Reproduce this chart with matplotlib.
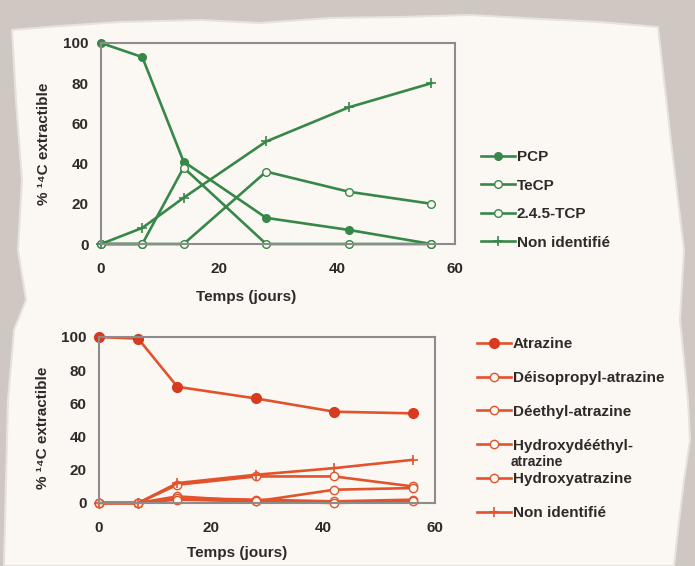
import matplotlib
matplotlib.use('Agg')
import matplotlib.pyplot as plt
from matplotlib.patches import Polygon

# données (temps en jours, % 14C extractible)
days = [0, 7, 14, 28, 42, 56]

pcp = [100, 93, 41, 13, 7, 0]
tecp = [0, 0, 38, 0, 0, 0]
tcp = [0, 0, 0, 36, 26, 20]
non_id_pcp = [0, 8, 23, 51, 68, 80]

atrazine = [100, 99, 70, 63, 55, 54]
deisopropyl = [0, 0, 11, 16, 16, 10]
deethyl = [0, 0, 4, 1, 8, 9]
hydroxydeethyl = [0, 0, 3, 2, 1, 2]
hydroxyatrazine = [0, 0, 2, 1, 0, 1]
non_id_atr = [0, 0, 12, 17, 21, 26]

labels_pcp = ['PCP', 'TeCP', '2.4.5-TCP', 'Non identifié']
labels_atr = ['Atrazine', 'Déisopropyl-atrazine', 'Déethyl-atrazine',
              'Hydroxydééthyl-', 'Hydroxyatrazine', 'Non identifié']

plt.rcParams['font.family'] = ['Liberation Sans', 'DejaVu Sans']
plt.rcParams['font.weight'] = 'bold'
plt.rcParams['axes.labelweight'] = 'bold'

W, H = 695, 566
green = '#378749'
red = '#e2532d'
txt = '#2e2a28'
paper = '#fbf8f3'
fs = 11

fig = plt.figure(figsize=(W / 100, H / 100), dpi=100)
fig.patch.set_facecolor('#cfc8c2')

# feuille déchirée (décor)
edge = [(12, 30), (60, 26), (120, 22), (200, 20), (260, 23), (330, 18), (400, 17),
        (470, 15), (540, 19), (600, 22), (658, 27), (664, 80), (672, 150),
        (684, 250), (680, 320), (688, 400), (690, 440), (684, 480), (678, 530),
        (674, 566), (4, 566), (6, 480), (8, 400), (14, 330), (26, 300),
        (18, 250), (22, 180), (16, 100), (12, 30)]
fig.add_artist(Polygon([(x / W, 1 - y / H) for x, y in edge], closed=True,
                       transform=fig.transFigure, facecolor=paper,
                       edgecolor='#e8e2dc', lw=1.5, zorder=0))


def style(ax, lab_xy, ylab_xy):
    ax.set_facecolor(paper)
    ax.set_xlim(0, 60)
    ax.set_ylim(0, 100)
    ax.set_xticks([0, 20, 40, 60])
    ax.set_yticks([0, 20, 40, 60, 80, 100])
    for s in ax.spines.values():
        s.set_color('#8c8c8c')
        s.set_linewidth(1.5)
    ax.tick_params(length=0, labelsize=fs, colors=txt)
    ax.tick_params(axis='x', pad=13)
    ax.tick_params(axis='y', pad=9)
    ax.set_xlabel('Temps (jours)', fontsize=fs, color=txt)
    ax.set_ylabel('% ¹⁴C extractible', fontsize=fs, color=txt)
    ax.xaxis.set_label_coords(*lab_xy)
    ax.yaxis.set_label_coords(*ylab_xy)


# graphique PCP
ax1 = fig.add_axes([101 / W, 1 - 244 / H, 354 / W, 201 / H])
style(ax1, (0.41, -0.23), (-0.14, 0.5))
ax1.plot(days, pcp, '-o', color=green, lw=1.9, ms=5.5, mfc=green, mec=green, label=labels_pcp[0], clip_on=False)
ax1.plot(days, tecp, '-o', color=green, lw=1.9, ms=5.5, mfc=paper, mec=green, label=labels_pcp[1], clip_on=False)
ax1.plot(days, tcp, '-o', color=green, lw=1.9, ms=5.5, mfc=paper, mec=green, label=labels_pcp[2], clip_on=False)
ax1.plot(days, non_id_pcp, '-+', color=green, lw=1.9, ms=7, mew=1.2, label=labels_pcp[3], clip_on=False)
ax1.legend(loc='upper left', bbox_to_anchor=(481 / W, 1 - 150 / H),
           bbox_transform=fig.transFigure, frameon=False, fontsize=fs,
           handlelength=2.2, handletextpad=0.15, labelspacing=0.95,
           borderaxespad=0, borderpad=0, labelcolor=txt)

# graphique atrazine
ax2 = fig.add_axes([99 / W, 1 - 503 / H, 336 / W, 166 / H])
style(ax2, (0.41, -0.26), (-0.145, 0.45))
ax2.plot(days, atrazine, '-o', color=red, lw=1.9, ms=7, mfc='#d8391f', mec='#d8391f', label=labels_atr[0], clip_on=False)
for vals, lab in zip([deisopropyl, deethyl, hydroxydeethyl, hydroxyatrazine], labels_atr[1:5]):
    ax2.plot(days, vals, '-o', color=red, lw=1.9, ms=6, mfc=paper, mec=red, label=lab, clip_on=False)
ax2.plot(days, non_id_atr, '-+', color=red, lw=1.9, ms=7, mew=1.2, label=labels_atr[5], clip_on=False)
ax2.legend(loc='upper left', bbox_to_anchor=(477 / W, 1 - 337 / H),
           bbox_transform=fig.transFigure, frameon=False, fontsize=fs,
           handlelength=2.2, handletextpad=0.15, labelspacing=1.3,
           borderaxespad=0, borderpad=0, labelcolor=txt)
fig.text(511 / W, 1 - 462 / H, 'atrazine', fontsize=fs - 1, color=txt, va='center')

fig.savefig('out.png', dpi=100, facecolor=fig.get_facecolor())
